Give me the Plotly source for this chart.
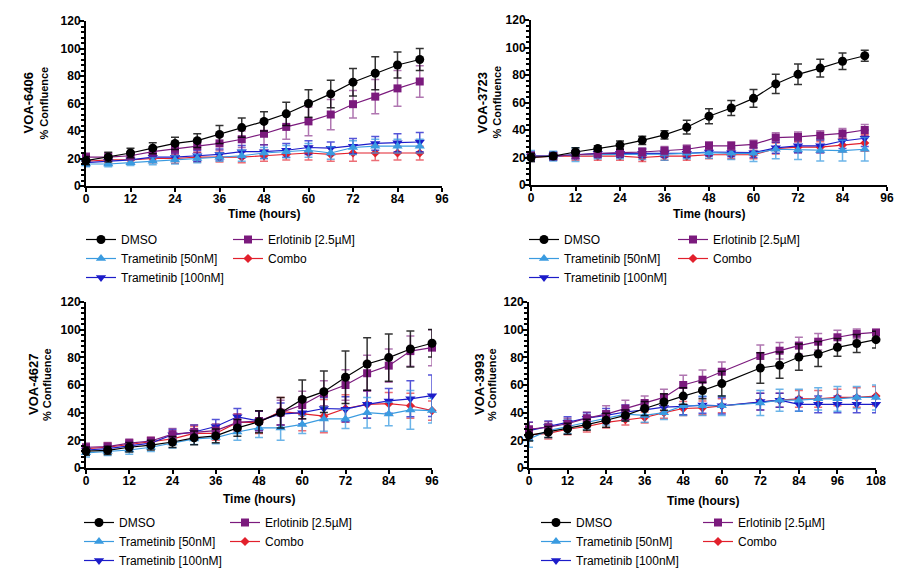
import plotly.graph_objects as go

# the page shows the figure offset by the body's 8px margin
OFF = 8
FW, FH = 908 - OFF, 571 - OFF

# ---------------- data ----------------
series_names = ["DMSO", "Erlotinib [2.5µM]", "Trametinib [50nM]", "Combo", "Trametinib [100nM]"]
cell_lines = ["VOA-6406", "VOA-3723", "VOA-4627", "VOA-3993"]

t_6406 = [0, 6, 12, 18, 24, 30, 36, 42, 48, 54, 60, 66, 72, 78, 84, 90]
dmso_6406 = [18.5, 21, 24, 27.5, 31, 33, 37.5, 42.5, 47, 52.5, 60, 67, 75.5, 82, 88, 92]
dmso_6406_sd = [3, 3.5, 3.5, 4, 4.5, 5, 6.5, 7, 7, 8.5, 10, 10, 10, 12, 9.5, 8]
erl_6406 = [21, 21, 22, 25, 27, 29, 31, 34, 38, 43, 47, 52, 59.5, 65, 71, 76]
erl_6406_sd = [3, 3, 3, 3.5, 4, 4.5, 5, 6, 8, 9, 10.5, 11, 10, 12.5, 13, 11.5]
t50_6406 = [16, 16, 17, 18, 19, 20, 21, 22, 24, 25, 26, 24, 28, 29, 29, 29]
t50_6406_sd = [2, 2, 2, 2.5, 3, 3, 3, 4, 4, 4.5, 5, 4.5, 5, 5, 5, 5]
combo_6406 = [18, 19, 19, 20, 20, 21, 21, 21, 22, 23, 24, 23, 24, 24, 24, 24]
combo_6406_sd = [3, 3, 3, 3, 3.5, 3.5, 3.5, 4, 4, 4, 5, 5, 6, 5.5, 5, 5]
t100_6406 = [17, 18, 19, 21, 21, 22, 23, 25, 25, 26, 28, 27.5, 29, 31, 31.5, 32]
t100_6406_sd = [2.5, 2.5, 3, 3, 3, 4, 4, 4.5, 5, 5, 5, 4.5, 5.5, 5, 6.5, 7]

t_3723 = [0, 6, 12, 18, 24, 30, 36, 42, 48, 54, 60, 66, 72, 78, 84, 90]
dmso_3723 = [20, 21, 24, 26.5, 29, 32.5, 36.5, 42, 50, 56, 63, 73.5, 80.5, 85, 90, 94]
dmso_3723_sd = [3, 2, 3, 2, 3, 3, 3, 5, 5.5, 5.5, 6.5, 7, 7.5, 6.5, 6, 4]
erl_3723 = [21, 21, 22, 23, 23.5, 24, 25, 26, 28.5, 28.5, 29.5, 34.5, 35, 36, 37.5, 40]
erl_3723_sd = [3, 2.5, 3, 3, 3, 3, 3, 3, 3, 3, 3, 3.5, 3.5, 3.5, 3.5, 4]
t50_3723 = [21, 21, 22, 22, 22, 22.5, 22.5, 23, 23.5, 23, 23, 26, 25.5, 25, 25, 26]
t50_3723_sd = [4, 3.5, 5, 3, 3, 4, 4.5, 4, 4, 4.5, 6, 7, 7, 7.5, 7.5, 8.5]
combo_3723 = [20, 21, 21, 21, 21, 20, 21, 21, 22, 22, 22, 26.5, 27.5, 27.5, 29, 30.5]
combo_3723_sd = [3, 3, 3, 3, 3, 3, 3, 3, 3, 3, 3, 4, 4, 4, 5, 6]
t100_3723 = [21, 21, 22, 23, 23, 23, 23, 23, 24, 23.5, 23.5, 27, 28.5, 28.5, 32, 34]
t100_3723_sd = [3, 3, 3, 3, 3, 3, 3, 3, 3, 3, 3.5, 4, 5, 5, 5.5, 6]

t_4627 = [0, 6, 12, 18, 24, 30, 36, 42, 48, 54, 60, 66, 72, 78, 84, 90, 96]
dmso_4627 = [12.2, 12.8, 15, 16.5, 18.8, 21.8, 23.2, 29, 33.4, 40, 49.6, 55.2, 65.6, 75.2, 79.8, 86, 90.2]
dmso_4627_sd = [3, 3, 3.5, 3.5, 4, 5, 5, 6, 8, 11, 14, 15, 19, 19, 17, 13, 10]
erl_4627 = [15, 15.5, 18, 19.5, 24.5, 26, 27, 33, 34, 40, 45.5, 54, 60, 68.5, 74, 84.5, 87]
erl_4627_sd = [3, 3, 3, 3, 4, 5, 5, 6, 7, 9, 10, 9, 11, 13, 12, 11, 13]
t50_4627 = [11, 12, 13, 15, 18, 21, 22, 26, 29, 29, 31.5, 35.5, 35.5, 40, 39, 42, 41.5]
t50_4627_sd = [3, 3, 3, 3, 3.5, 4, 4.5, 6, 7, 9, 6.5, 9, 7, 11, 8.5, 14, 9]
combo_4627 = [14, 15, 17, 19, 21, 25, 25, 33, 33, 41, 39, 37.5, 43, 46, 46.5, 45, 41.5]
combo_4627_sd = [3, 3, 3, 3, 4, 5, 5, 6, 8, 10, 12, 12, 10, 10, 8, 9, 7]
t100_4627 = [13, 14, 16, 18, 24, 26, 30, 37, 34, 39, 40, 43, 42.5, 46, 48.5, 50, 52.3]
t100_4627_sd = [3, 3, 3, 3, 4, 5, 5, 6, 7, 8, 8, 8, 9, 10, 9, 13, 15]

t_3993 = [0, 6, 12, 18, 24, 30, 36, 42, 48, 54, 60, 72, 78, 84, 90, 96, 102, 108]
dmso_3993 = [23.6, 26, 28.4, 31.3, 34.5, 38, 43, 47.7, 52, 56, 61, 72.3, 74.3, 80.2, 82.4, 87.2, 90, 92.8]
dmso_3993_sd = [4, 4, 4, 4, 5, 4, 5, 6, 6, 6, 9, 11, 9.5, 9.5, 9, 6.5, 6.5, 6]
erl_3993 = [28, 29.5, 32, 36, 39, 43, 47, 51, 60, 63.8, 69.6, 81, 84.8, 88.5, 91.3, 94.5, 97, 98]
erl_3993_sd = [5, 4, 4, 4.5, 6, 6, 5, 6, 7, 7, 7, 8, 6, 6, 6, 5, 3.5, 2]
t50_3993 = [21, 27, 30, 33, 36, 39, 38, 40, 45, 45, 45, 47, 49, 49, 50, 50, 51, 51]
t50_3993_sd = [6, 5, 5, 5, 5, 5, 5, 5, 7, 7, 7, 9, 8, 8, 8, 9, 8, 9]
combo_3993 = [24, 25, 28, 30, 33, 35, 36.5, 40, 43, 43.5, 45, 48, 49, 50, 50, 51, 51, 52]
combo_3993_sd = [4, 4, 4, 4, 4, 4, 4, 4, 5, 5, 5, 6, 5, 6, 6, 6, 7, 7]
t100_3993 = [27, 30, 33, 36, 38, 40.5, 42, 44, 44.5, 45.5, 45, 48, 49, 46, 46, 46, 46, 46]
t100_3993_sd = [6, 4, 4, 4, 5, 5, 5, 5, 6, 6, 6, 6, 5, 5, 6, 6, 6, 6]

x_max = [96, 96, 96, 108]
y_ticks = [0, 20, 40, 60, 80, 100, 120]

panels = [
    (t_6406, {"DMSO": (dmso_6406, dmso_6406_sd), "Erlotinib [2.5µM]": (erl_6406, erl_6406_sd),
              "Trametinib [50nM]": (t50_6406, t50_6406_sd), "Combo": (combo_6406, combo_6406_sd),
              "Trametinib [100nM]": (t100_6406, t100_6406_sd)}),
    (t_3723, {"DMSO": (dmso_3723, dmso_3723_sd), "Erlotinib [2.5µM]": (erl_3723, erl_3723_sd),
              "Trametinib [50nM]": (t50_3723, t50_3723_sd), "Combo": (combo_3723, combo_3723_sd),
              "Trametinib [100nM]": (t100_3723, t100_3723_sd)}),
    (t_4627, {"DMSO": (dmso_4627, dmso_4627_sd), "Erlotinib [2.5µM]": (erl_4627, erl_4627_sd),
              "Trametinib [50nM]": (t50_4627, t50_4627_sd), "Combo": (combo_4627, combo_4627_sd),
              "Trametinib [100nM]": (t100_4627, t100_4627_sd)}),
    (t_3993, {"DMSO": (dmso_3993, dmso_3993_sd), "Erlotinib [2.5µM]": (erl_3993, erl_3993_sd),
              "Trametinib [50nM]": (t50_3993, t50_3993_sd), "Combo": (combo_3993, combo_3993_sd),
              "Trametinib [100nM]": (t100_3993, t100_3993_sd)}),
]

# ---------------- styles ----------------
style = {
    "DMSO": dict(color="#000000", err="rgba(0,0,0,0.8)", symbol="circle", size=9),
    "Erlotinib [2.5µM]": dict(color="#7b1a7d", err="rgba(123,26,125,0.6)", symbol="square", size=8),
    "Trametinib [50nM]": dict(color="#3a9be0", err="rgba(58,155,224,0.75)", symbol="triangle-up", size=9),
    "Combo": dict(color="#e2202c", err="rgba(226,32,44,0.65)", symbol="diamond", size=7),
    "Trametinib [100nM]": dict(color="#1c1cc9", err="rgba(28,28,201,0.75)", symbol="triangle-down", size=9),
}
draw_order = ["Combo", "Trametinib [100nM]", "Trametinib [50nM]", "Erlotinib [2.5µM]", "DMSO"]
col1 = {"DMSO", "Trametinib [50nM]", "Trametinib [100nM]"}

# plot-area boxes in screen pixels: (x0, x1, ytop, ybottom)
boxes = [(86, 442, 21, 186), (531, 887, 20, 185), (86, 432, 302, 468), (529, 876, 302, 468)]
# legend anchors: (col1 text x, col2 text x, first row y)
leg_pos = [(121, 268, 236), (564, 713, 236), (119, 265, 519), (576, 738, 519)]
ytitle_pos = [(28, 44), (482, 497), (33, 47), (479, 492)]
xtitle_y = [214, 214, 499, 501]


def px(x):
    return (x - OFF) / FW


def py(y):
    return 1 - (y - OFF) / FH


fig = go.Figure()
annotations = []
layout = {}

for i, (t, data) in enumerate(panels):
    k = "" if i == 0 else str(i + 1)
    xa, ya = "x" + k, "y" + k
    l1 = "legend" if i == 0 else "legend" + str(2 * i + 1)
    l2 = "legend" + str(2 * i + 2)
    for name in draw_order:
        vals, sd = data[name]
        s = style[name]
        fig.add_trace(go.Scatter(
            x=t, y=vals, name=name, mode="lines+markers",
            xaxis=xa, yaxis=ya,
            legend=l1 if name in col1 else l2,
            line=dict(color=s["color"], width=1.2),
            marker=dict(symbol=s["symbol"], size=s["size"], color=s["color"], line=dict(width=0)),
            error_y=dict(type="data", array=sd, visible=True, color=s["err"], thickness=1.5, width=4),
            cliponaxis=False,
        ))
    x0, x1, yt, yb = boxes[i]
    layout["xaxis" + k] = dict(
        domain=[px(x0), px(x1)], range=[0, x_max[i]], anchor=ya,
        tickmode="array", tickvals=list(range(0, x_max[i] + 1, 12)),
        ticks="outside", ticklen=4, tickwidth=2, tickcolor="black",
        showline=True, linecolor="black", linewidth=2, showgrid=False, zeroline=False,
        tickfont=dict(family="Liberation Sans, Arial", size=12, color="black", weight="bold"),
        automargin=False, ticklabelstandoff=-3,
    )
    layout["yaxis" + k] = dict(
        domain=[py(yb), py(yt)], range=[0, 120], anchor=xa,
        tickmode="array", tickvals=y_ticks,
        ticks="outside", ticklen=5, tickwidth=2, tickcolor="black",
        minor=dict(dtick=4, ticks="outside", ticklen=3, tickwidth=1.5, tickcolor="black", showgrid=False),
        showline=True, linecolor="black", linewidth=2, showgrid=False, zeroline=False,
        tickfont=dict(family="Liberation Sans, Arial", size=12, color="black", weight="bold"),
        automargin=False, ticklabelstandoff=-4,
    )
    c1x, c2x, ry = leg_pos[i]
    for lname, lx in ((l1, c1x), (l2, c2x)):
        layout[lname] = dict(
            x=px(lx - 40), y=py(ry - 11), xanchor="left", yanchor="top",
            xref="paper", yref="paper", traceorder="reversed",
            bgcolor="rgba(0,0,0,0)", borderwidth=0, itemsizing="trace",
            font=dict(family="Liberation Sans, Arial", size=12, color="black"),
            tracegroupgap=0,
        )
    ax1, ax2 = ytitle_pos[i]
    cy = (yt + yb) / 2
    annotations.append(dict(
        text="<b>" + cell_lines[i] + "</b>", x=px(ax1), y=py(cy), xref="paper", yref="paper",
        textangle=-90, showarrow=False, xanchor="center", yanchor="middle",
        font=dict(family="Liberation Sans, Arial", size=13, color="black"),
    ))
    annotations.append(dict(
        text="<b>% Confluence</b>", x=px(ax2), y=py(cy), xref="paper", yref="paper",
        textangle=-90, showarrow=False, xanchor="center", yanchor="middle",
        font=dict(family="Liberation Sans, Arial", size=11, color="black"),
    ))
    annotations.append(dict(
        text="<b>Time (hours)</b>", x=px((x0 + x1) / 2), y=py(xtitle_y[i]), xref="paper", yref="paper",
        showarrow=False, xanchor="center", yanchor="middle",
        font=dict(family="Liberation Sans, Arial", size=12, color="black"),
    ))

fig.update_layout(
    width=FW, height=FH,
    margin=dict(l=0, r=0, t=0, b=0, autoexpand=False),
    paper_bgcolor="white", plot_bgcolor="white",
    showlegend=True,
    annotations=annotations,
    **layout,
)

fig.write_html("out.html")
